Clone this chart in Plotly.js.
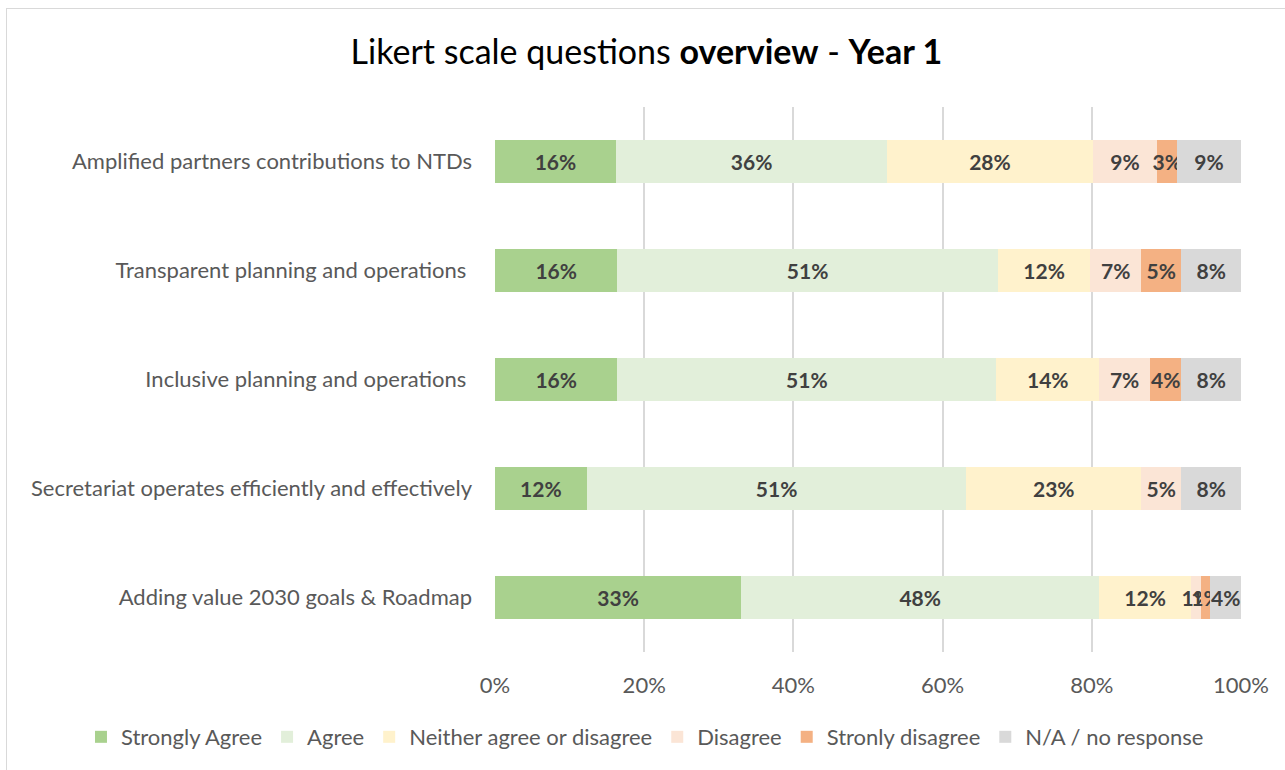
<!DOCTYPE html>
<html>
<head>
<meta charset="utf-8">
<script src="https://cdn.plot.ly/plotly-3.0.1.min.js"></script>
<style>
  html, body { margin: 0; padding: 0; overflow: hidden; background: #fff; }
  #box { position: absolute; left: 0; top: 0; width: 1285px; height: 770px; }
  #frame { position: absolute; left: 6px; top: 8px; width: 1300px; height: 800px;
           border: 1px solid #d9d9d9; pointer-events: none; }
</style>
</head>
<body>
<div id="box"></div>
<div id="frame"></div>
<script>
'use strict'

// questions, top to bottom
var questions = [
    "Amplified partners contributions to NTDs",
    "Transparent planning and operations\u00a0",
    "Inclusive planning and operations\u00a0",
    "Secretariat operates efficiently and effectively",
    "Adding value 2030 goals & Roadmap"
];

// share of answers (%) per question
var stronglyAgree   = [16.2, 16.4, 16.4, 12.3, 33.0];
var agree           = [36.4, 51.0, 50.8, 50.9, 48.0];
var neither         = [27.5, 12.4, 13.8, 23.4, 12.3];
var disagree        = [8.7, 6.8, 6.8, 5.4, 1.4];
var stronglyDisagree = [2.6, 5.4, 4.2, 0, 1.2];
var noResponse      = [8.6, 8.0, 8.0, 8.0, 4.1];

var seriesNames = ["Strongly Agree", "Agree", "Neither agree or disagree",
                   "Disagree", "Stronly disagree", "N/A / no response"];
var seriesColors = ["#a9d18e", "#e2efda", "#fff2cc", "#fbe5d6", "#f4b183", "#d9d9d9"];
var seriesValues = [stronglyAgree, agree, neither, disagree, stronglyDisagree, noResponse];

var font = "Lato, 'Open Sans', sans-serif";

function labels(vals){
    return vals.map(function(v){ return v > 0 ? Math.round(v) + "%" : ""; });
}

var graphData = [];
for(var i = 0; i < seriesNames.length; i++){
    graphData.push({
        type: "bar",
        orientation: "h",
        name: seriesNames[i],
        x: seriesValues[i],
        y: questions,
        marker: {color: seriesColors[i], line: {width: 0}},
        text: labels(seriesValues[i]),
        textposition: "inside",
        insidetextanchor: "middle",
        textangle: 0,
        constraintext: "none",
        textfont: {family: font, size: 21, color: "#404040", weight: "bold"},
        hoverinfo: "name+x"
    });
}

var layout = {
    width: 1285,
    height: 770,
    margin: {l: 495, r: 44, t: 107, b: 118, pad: 0},
    paper_bgcolor: "rgba(0,0,0,0)",
    plot_bgcolor: "rgba(0,0,0,0)",
    barmode: "stack",
    bargap: 0.6,
    font: {family: font, color: "#595959"},
    title: {
        text: "Likert scale questions <b>overview</b> - <b>Year 1</b>",
        font: {family: font, size: 34, color: "#000000"},
        x: 0.503,
        xanchor: "center",
        y: 0.932,
        yanchor: "middle"
    },
    xaxis: {
        range: [0, 100],
        dtick: 20,
        ticksuffix: "%",
        showgrid: true,
        gridcolor: "#d9d9d9",
        gridwidth: 1.5,
        zeroline: false,
        showline: false,
        ticks: "",
        ticklabelstandoff: 18,
        automargin: false,
        tickfont: {family: font, size: 22, color: "#595959"}
    },
    yaxis: {
        type: "category",
        autorange: "reversed",
        showgrid: false,
        zeroline: false,
        showline: false,
        ticks: "",
        ticklabelstandoff: 22,
        automargin: false,
        tickfont: {family: font, size: 22, color: "#595959"}
    },
    showlegend: true,
    legend: {
        orientation: "h",
        traceorder: "normal",
        x: -0.555,
        xanchor: "left",
        y: -0.156,
        yanchor: "middle",
        font: {family: font, size: 22, color: "#595959"},
        itemwidth: 30
    }
};

Plotly.newPlot("box", graphData, layout, {displayModeBar: false});
</script>
</body>
</html>
